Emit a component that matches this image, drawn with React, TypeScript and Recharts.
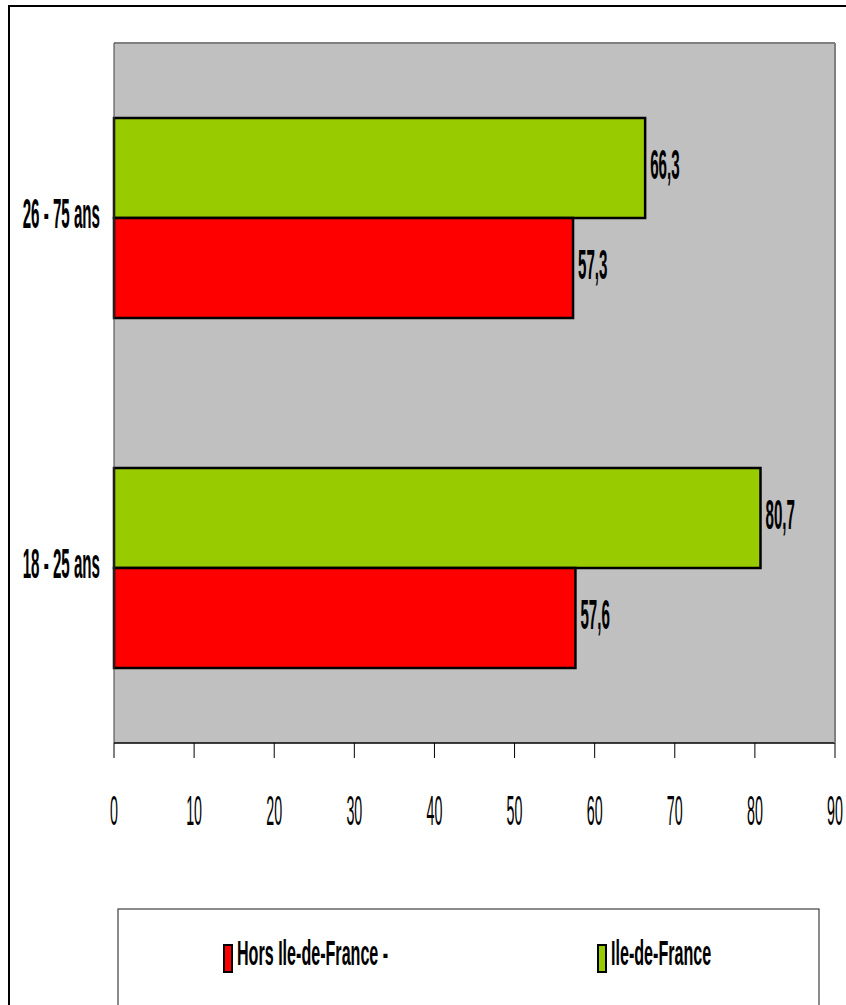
import { BarChart, Bar, XAxis, YAxis, CartesianGrid, LabelList } from "recharts"

// Share (%) per age group, Ile-de-France vs rest of France
const AGE_GROUPS = ["26 - 75 ans", "18 - 25 ans"]
const ILE_DE_FRANCE = [66.3, 80.7]
const HORS_ILE_DE_FRANCE = [57.3, 57.6]
const X_TICKS = [0, 10, 20, 30, 40, 50, 60, 70, 80, 90]
const BAND_EDGES = [0, 1, 2]

const SERIES_LABELS = { hors: "Hors Ile-de-France -", idf: "Ile-de-France" }

const GREEN = "#99CC00"
const RED = "#FF0000"
const PLOT_GREY = "#C0C0C0"
const BORDER_GREY = "#808080"
const FONT = "'Liberation Sans', Arial, Helvetica, sans-serif"

const data = AGE_GROUPS.map((name, i) => ({
  name,
  idf: ILE_DE_FRANCE[i],
  hors: HORS_ILE_DE_FRANCE[i],
}))

const fmt = (v: number) => Number(v).toFixed(1).replace(".", ",")

// narrow condensed lettering
function ValueTick({ x, y, payload }: any) {
  return (
    <text
      transform={`translate(${x},${y + 67}) scale(0.34,1)`}
      textAnchor="middle"
      fontSize={42}
      fontFamily={FONT}
      fill="#000"
    >
      {payload.value}
    </text>
  )
}

function GroupTick({ x, y, payload }: any) {
  return (
    <text
      transform={`translate(${x},${y + 10}) scale(0.36,1)`}
      textAnchor="end"
      fontSize={42}
      fontWeight="bold"
      fontFamily={FONT}
      fill="#000"
    >
      {payload.value}
    </text>
  )
}

function BarValue({ x, y, width, height, value }: any) {
  const tx = Number(x) + Number(width) + 5
  const ty = Number(y) + Number(height) / 2 + 11
  return (
    <text
      transform={`translate(${tx},${ty}) scale(0.36,1)`}
      fontSize={42}
      fontWeight="bold"
      fontFamily={FONT}
      fill="#000"
    >
      {fmt(value)}
    </text>
  )
}

function LegendItem({ x, color, label }: { x: number; color: string; label: string }) {
  return (
    <g>
      <rect x={x} y={945} width={8} height={27} fill={color} stroke="#000" strokeWidth={2} />
      <text
        transform={`translate(${x + 13},965) scale(0.46,1)`}
        fontSize={35}
        fontWeight="bold"
        fontFamily={FONT}
        fill="#000"
      >
        {label}
      </text>
    </g>
  )
}

export default function App() {
  return (
    <div
      style={{
        position: "absolute",
        left: 0,
        top: 0,
        width: 846,
        height: 1005,
        overflow: "hidden",
        background: "#fff",
      }}
    >
      {/* outer frame + legend box */}
      <svg width={846} height={1005} style={{ position: "absolute", left: 0, top: 0 }}>
        <rect x={9} y={6} width={900} height={1100} fill="#fff" stroke="#000" strokeWidth={2} />
        <rect x={118} y={909} width={701} height={200} fill="#fff" stroke="#404040" strokeWidth={1.2} />
        <LegendItem x={224} color={RED} label={SERIES_LABELS.hors} />
        <LegendItem x={598} color={GREEN} label={SERIES_LABELS.idf} />
      </svg>

      <div style={{ position: "absolute", left: 0, top: 0 }}>
        <BarChart
          width={846}
          height={880}
          data={data}
          layout="vertical"
          margin={{ top: 42, right: 10, left: 0, bottom: 0 }}
          barCategoryGap={75}
          barGap={0}
        >
          <CartesianGrid
            xAxisId={0}
            yAxisId="groups"
            horizontal={false}
            vertical={false}
            fill={PLOT_GREY}
            fillOpacity={1}
          />
          <XAxis
            type="number"
            domain={[0, 90]}
            ticks={X_TICKS}
            interval={0}
            height={137}
            tickSize={15}
            tickMargin={0}
            axisLine={{ stroke: "#000", strokeWidth: 1.5 }}
            tickLine={{ stroke: "#000", strokeWidth: 1 }}
            tick={<ValueTick />}
          />
          {/* plot frame, top edge */}
          <XAxis
            xAxisId="top"
            orientation="top"
            type="number"
            domain={[0, 90]}
            allowDataOverflow
            height={1}
            tick={false}
            tickLine={false}
            axisLine={{ stroke: BORDER_GREY, strokeWidth: 2 }}
          />
          {/* left axis line with ticks between the groups */}
          <YAxis
            yAxisId="bounds"
            type="number"
            domain={[0, 2]}
            allowDataOverflow
            ticks={BAND_EDGES}
            interval={0}
            width={1}
            tick={false}
            tickSize={6}
            axisLine={{ stroke: "#404040", strokeWidth: 1 }}
            tickLine={{ stroke: "#333", strokeWidth: 1 }}
          />
          <YAxis
            yAxisId="groups"
            type="category"
            dataKey="name"
            width={113}
            axisLine={false}
            tickLine={false}
            tickSize={0}
            tickMargin={13}
            tick={<GroupTick />}
          />
          {/* plot frame, right edge */}
          <YAxis
            yAxisId="right"
            orientation="right"
            type="number"
            domain={[0, 1]}
            allowDataOverflow
            width={1}
            tick={false}
            tickLine={false}
            axisLine={{ stroke: BORDER_GREY, strokeWidth: 2 }}
          />
          <Bar
            yAxisId="groups"
            dataKey="idf"
            name={SERIES_LABELS.idf}
            fill={GREEN}
            stroke="#000"
            strokeWidth={2.5}
            isAnimationActive={false}
          >
            <LabelList dataKey="idf" content={<BarValue />} />
          </Bar>
          <Bar
            yAxisId="groups"
            dataKey="hors"
            name={SERIES_LABELS.hors}
            fill={RED}
            stroke="#000"
            strokeWidth={2.5}
            isAnimationActive={false}
          >
            <LabelList dataKey="hors" content={<BarValue />} />
          </Bar>
        </BarChart>
      </div>
    </div>
  )
}
